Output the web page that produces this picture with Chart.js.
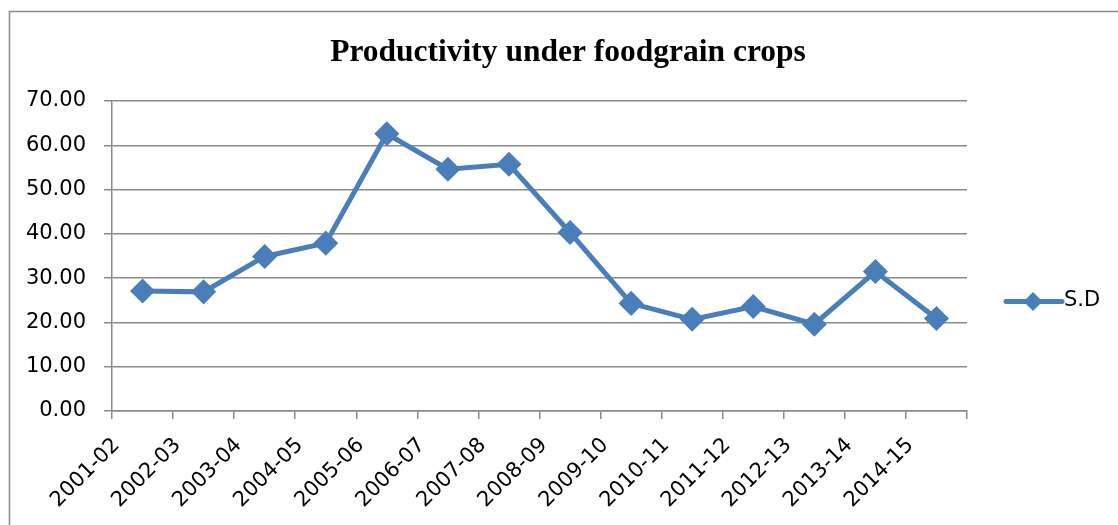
<!DOCTYPE html>
<html>
<head>
<meta charset="utf-8">
<script src="https://cdn.jsdelivr.net/npm/chart.js@4.4.1/dist/chart.umd.min.js"></script>
<style>
  html, body { margin: 0; padding: 0; background: #ffffff; }
  #wrap { width: 1118px; height: 525px; position: relative; }
</style>
</head>
<body>
<div id="wrap"><canvas id="c" width="1118" height="525"></canvas></div>
<script>
const chartTitle = "Productivity under foodgrain crops";
const seriesName = "S.D";
const categories = ["2001-02","2002-03","2003-04","2004-05","2005-06","2006-07","2007-08","2008-09","2009-10","2010-11","2011-12","2012-13","2013-14","2014-15"];
const sdValues = [27.1, 26.9, 34.9, 37.9, 62.6, 54.6, 55.7, 40.3, 24.3, 20.7, 23.6, 19.6, 31.5, 20.9];
const yTicks = [0, 10, 20, 30, 40, 50, 60, 70];

const lineColor = "#4a7ebb";
const gridColor = "#8a8a8a";

const framePlugin = {
  id: "frame",
  beforeDraw(chart) {
    const ctx = chart.ctx;
    ctx.save();
    ctx.fillStyle = "#ffffff";
    ctx.fillRect(0, 0, chart.width, chart.height);
    ctx.strokeStyle = "#8a8a8a";
    ctx.lineWidth = 1.5;
    ctx.strokeRect(9.5, 11.5, 1300, 700);
    ctx.restore();
  }
};

const titlePlugin = {
  id: "customTitle",
  afterDraw(chart) {
    const ctx = chart.ctx;
    ctx.save();
    ctx.fillStyle = "#000000";
    ctx.font = "bold 31.5px 'Liberation Serif', 'Times New Roman', serif";
    ctx.textAlign = "center";
    ctx.textBaseline = "alphabetic";
    ctx.fillText(chartTitle, 568, 61);
    ctx.restore();
  }
};

const legendPlugin = {
  id: "customLegend",
  afterDraw(chart) {
    const ds = chart.data.datasets[0];
    const ctx = chart.ctx;
    const y = 301.5;
    const x0 = 1006, x1 = 1062;
    ctx.save();
    ctx.strokeStyle = ds.borderColor;
    ctx.lineWidth = 5;
    ctx.lineCap = "round";
    ctx.beginPath();
    ctx.moveTo(x0, y);
    ctx.lineTo(x1, y);
    ctx.stroke();
    ctx.fillStyle = ds.pointBackgroundColor;
    const cx = 1033, r = 9.5;
    ctx.beginPath();
    ctx.moveTo(cx, y - r);
    ctx.lineTo(cx + r, y);
    ctx.lineTo(cx, y + r);
    ctx.lineTo(cx - r, y);
    ctx.closePath();
    ctx.fill();
    ctx.fillStyle = "#000000";
    ctx.font = "21px 'DejaVu Sans'";
    ctx.textBaseline = "middle";
    ctx.textAlign = "left";
    ctx.fillText(ds.label, 1064, 300.5);
    ctx.restore();
  }
};

new Chart(document.getElementById("c"), {
  type: "line",
  data: {
    labels: categories,
    datasets: [{
      label: seriesName,
      data: sdValues,
      borderColor: lineColor,
      backgroundColor: lineColor,
      pointBackgroundColor: lineColor,
      pointBorderColor: lineColor,
      borderWidth: 5,
      pointStyle: "rectRot",
      pointRadius: 9,
      pointHoverRadius: 9,
      tension: 0,
      fill: false
    }]
  },
  options: {
    responsive: false,
    animation: false,
    devicePixelRatio: 1,
    layout: { padding: { left: 0, right: 151, top: 101, bottom: 0 } },
    plugins: {
      legend: { display: false },
      tooltip: { enabled: false },
      title: { display: false }
    },
    scales: {
      x: {
        type: "category",
        offset: true,
        grid: { offset: true, drawOnChartArea: false, drawTicks: true, tickLength: 8, color: gridColor, lineWidth: 1.5 },
        border: { display: true, color: gridColor, width: 1.5 },
        ticks: {
          color: "#000000",
          font: { family: "'DejaVu Sans'", size: 21 },
          minRotation: 45, maxRotation: 45,
          padding: 14,
          labelOffset: -26,
          autoSkip: false
        },
        afterFit(scale) { scale.height = 114; }
      },
      y: {
        min: 0, max: 70,
        afterBuildTicks(scale) { scale.ticks = yTicks.map(v => ({ value: v })); },
        grid: { color: gridColor, lineWidth: 1.5, tickLength: 8, drawTicks: true },
        border: { display: true, color: gridColor, width: 1.5 },
        ticks: {
          color: "#000000",
          font: { family: "'DejaVu Sans'", size: 21 },
          padding: 18,
          callback: (v) => Number(v).toFixed(2)
        },
        afterFit(scale) { scale.width = 112; }
      }
    }
  },
  plugins: [framePlugin, titlePlugin, legendPlugin]
});
</script>
</body>
</html>
